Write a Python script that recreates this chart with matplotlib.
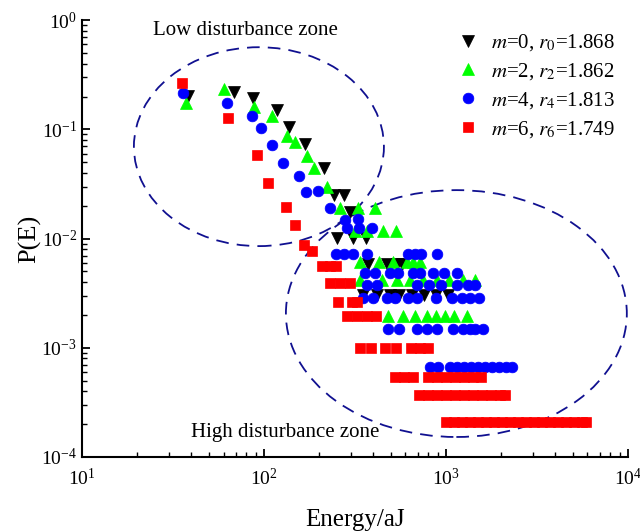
import matplotlib
matplotlib.use("Agg")
import matplotlib.pyplot as plt
from matplotlib.patches import Ellipse

plt.rcParams['font.family'] = ['Liberation Serif', 'DejaVu Serif']
plt.rcParams['mathtext.fontset'] = 'stix'
plt.rcParams['axes.unicode_minus'] = False

# m = 0
e_m0 = [38.4, 68.4, 87.4, 117.4, 137.2, 168.0, 212.8, 242.5, 275.2, 296.8,
        252.7, 309.5, 365.8,
        374.2, 472.3, 536.1, 575.0,
        351.3, 419.3, 492.5, 552.0, 648.1, 757.1, 881.3, 1029.5]
p_m0 = [0.2015, 0.2179, 0.192, 0.150, 0.1055, 0.0728, 0.0445, 0.025, 0.025, 0.01748,
        0.0102, 0.0102, 0.0102,
        0.00584, 0.00584, 0.00584, 0.00584,
        0.00304, 0.00304, 0.00304, 0.00304, 0.00304, 0.00304, 0.00304, 0.00304]

# m = 2
e_m2 = [37.3, 60.5, 88.4, 111.1, 133.3, 148.6, 173.0, 188.3, 221.1,
        261.6, 329.7, 407.3,
        316.2, 366.7, 452.4, 531.4,
        336.9, 430.1, 513.5, 608.5, 661.4, 719.7,
        336.9, 444.9, 538.0, 634.0, 747.0, 892.0, 1039.0, 1240.0, 1443.0,
        482.0, 582.9, 675.8, 783.4, 881.3, 987.4, 1110.7, 1299.0]
p_m2 = [0.1728, 0.2322, 0.1608, 0.1322, 0.0867, 0.0769, 0.0565, 0.0445, 0.0296,
        0.0189, 0.0189, 0.0189,
        0.01178, 0.01178, 0.01178, 0.01178,
        0.00609, 0.00609, 0.00609, 0.00609, 0.00609, 0.00609,
        0.00417, 0.00417, 0.00417, 0.00417, 0.00417, 0.00417, 0.00417, 0.00417, 0.00417,
        0.00194, 0.00194, 0.00194, 0.00194, 0.00194, 0.00194, 0.00194, 0.00194]

# m = 4
e_m4 = [36.0, 62.9, 86.2, 95.9, 110.2, 128.0, 156.3, 170.8, 198.1, 230.5,
        278.7, 329.7,
        284.7, 333.7, 390.7,
        250.3, 275.2, 309.5, 369.5, 620.9, 675.8, 726.1, 889.1,
        358.9, 407.3, 492.5, 547.0, 661.4, 719.7, 845.2, 978.8, 1145.0,
        366.7, 419.3, 695.6, 809.5, 938.7, 1145.0, 1326.0, 1443.0,
        351.3, 398.6, 472.3, 524.7, 620.9, 695.6, 881.3, 1074.8, 1220.0, 1355.0, 1524.0,
        482.0, 552.0, 690.3, 783.4, 889.1, 1097.0, 1245.0, 1355.0, 1443.0, 1603.0,
        817.0, 907.0, 1052.0, 1149.0, 1256.0, 1373.0, 1499.0, 1638.0, 1789.0, 1955.0, 2137.0, 2296.0]
p_m4 = [0.2133, 0.1728, 0.1331, 0.1033, 0.0717, 0.0488, 0.0373, 0.0268, 0.0275, 0.0189,
        0.0149, 0.0150,
        0.01256, 0.01256, 0.01256,
        0.00721, 0.00721, 0.00721, 0.00721, 0.00721, 0.00721, 0.00721, 0.00721,
        0.00483, 0.00483, 0.00483, 0.00483, 0.00483, 0.00483, 0.00483, 0.00483, 0.00483,
        0.00375, 0.00375, 0.00375, 0.00375, 0.00375, 0.00375, 0.00375, 0.00375,
        0.00284, 0.00284, 0.00284, 0.00284, 0.00284, 0.00284, 0.00284, 0.00284, 0.00284, 0.00284, 0.00284,
        0.001475, 0.001475, 0.001475, 0.001475, 0.001475, 0.001475, 0.001475, 0.001475, 0.001475, 0.001475,
        0.000662, 0.000662, 0.000662, 0.000662, 0.000662, 0.000662, 0.000662, 0.000662, 0.000662, 0.000662, 0.000662, 0.000662]

# m = 6
e_m6 = [35.6, 63.7, 91.2, 105.6, 132.1, 148.0, 165.9, 182.9,
        208.3, 230.5, 250.3,
        230.5, 261.6, 296.8,
        256.0, 303.3, 323.1,
        285.8, 324.3, 368.0, 412.5,
        336.9, 389.6, 462.2, 531.4, 642.2, 719.7, 796.3,
        524.7, 587.8, 658.7, 796.3, 892.2, 1000.0, 1120.6, 1256.0, 1407.0, 1557.0,
        710.6, 796.3, 892.2, 1000.0, 1120.6, 1256.0, 1407.0, 1577.0, 1767.0, 1981.0, 2110.0,
        1000.0, 1107.0, 1224.0, 1355.0, 1499.0, 1659.0, 1835.0, 2031.0, 2247.0, 2487.0,
        2752.0, 3044.0, 3369.0, 3727.0, 4125.0, 4563.0, 5050.0, 5587.0, 5878.0]
p_m6 = [0.2634, 0.1275, 0.0581, 0.0320, 0.0195, 0.01329, 0.00872, 0.00763,
        0.0056, 0.0056, 0.0056,
        0.00394, 0.00394, 0.00394,
        0.00264, 0.00264, 0.00264,
        0.00194, 0.00194, 0.00194, 0.00194,
        0.001005, 0.001005, 0.001005, 0.001005, 0.001005, 0.001005, 0.001005,
        0.000543, 0.000543, 0.000543, 0.000543, 0.000543, 0.000543, 0.000543, 0.000543, 0.000543, 0.000543,
        0.000369, 0.000369, 0.000369, 0.000369, 0.000369, 0.000369, 0.000369, 0.000369, 0.000369, 0.000369, 0.000369,
        0.00021, 0.00021, 0.00021, 0.00021, 0.00021, 0.00021, 0.00021, 0.00021, 0.00021, 0.00021,
        0.00021, 0.00021, 0.00021, 0.00021, 0.00021, 0.00021, 0.00021, 0.00021, 0.00021]

labels = [r'$m$=0, $r_0$=1.868', r'$m$=2, $r_2$=1.862',
          r'$m$=4, $r_4$=1.813', r'$m$=6, $r_6$=1.749']

fig = plt.figure(figsize=(6.4, 5.32), dpi=100)
ax = fig.add_axes([0.128, 0.141, 0.853, 0.821])

ax.plot(e_m0, p_m0, 'v', color='black', ms=8.5, mew=0.5, ls='', label=labels[0])
ax.plot(e_m2, p_m2, '^', color='#00ff00', ms=8.5, mew=0.5, ls='', label=labels[1])
ax.plot(e_m4, p_m4, 'o', color='#0000ff', ms=7.7, mew=0.5, ls='', label=labels[2])
ax.plot(e_m6, p_m6, 's', color='#ff0000', ms=6.8, mew=0.5, ls='', label=labels[3])

ax.set_xscale('log')
ax.set_yscale('log')
ax.set_xlim(10, 1e4)
ax.set_ylim(1e-4, 1)

# zones
ax.add_patch(Ellipse((0.3242, 0.7105), 0.458, 0.4554, transform=ax.transAxes,
                     fill=False, ec='#101090', lw=1.3, ls=(0, (7, 4.5))))
ax.add_patch(Ellipse((0.6859, 0.3284), 0.6245, 0.5652, transform=ax.transAxes,
                     fill=False, ec='#101090', lw=1.3, ls=(0, (7, 4.5))))
ax.text(0.30, 0.977, 'Low disturbance zone', transform=ax.transAxes,
        ha='center', va='center', fontsize=15)
ax.text(0.372, 0.055, 'High disturbance zone', transform=ax.transAxes,
        ha='center', va='center', fontsize=15)

ax.spines['top'].set_visible(False)
ax.spines['right'].set_visible(False)
for s in ['left', 'bottom']:
    ax.spines[s].set_linewidth(1.5)
ax.tick_params(which='major', direction='in', length=6, width=1.3, labelsize=14)
ax.tick_params(which='minor', direction='in', length=3.5, width=1.0)
ax.tick_params(axis='x', pad=8)

ax.set_xlabel('Energy/aJ', fontsize=18, labelpad=14)
ax.set_ylabel('P(E)', fontsize=19, labelpad=0)

ax.legend(loc='upper right', bbox_to_anchor=(1.01, 1.015), frameon=False,
          numpoints=1, fontsize=15, handletextpad=0.5, labelspacing=0.38,
          handlelength=1.2)

fig.savefig('out.png', dpi=100)
